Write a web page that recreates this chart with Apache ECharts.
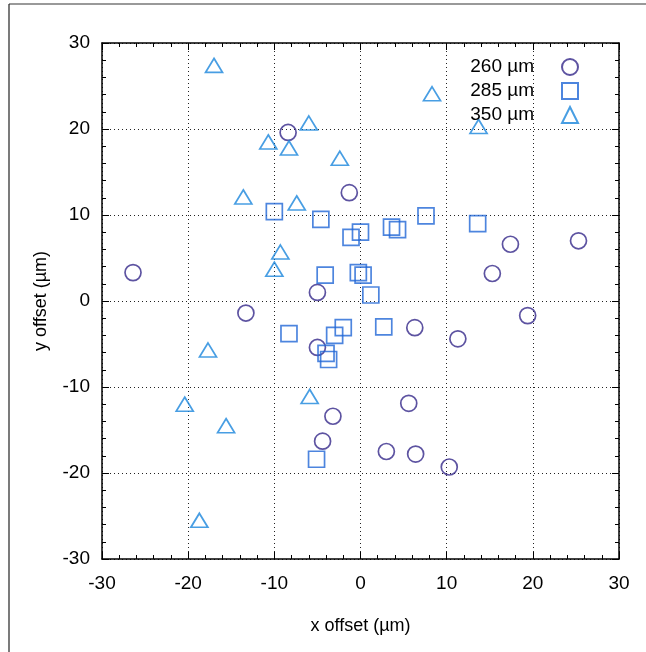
<!DOCTYPE html>
<html>
<head>
<meta charset="utf-8">
<script src="https://cdn.jsdelivr.net/npm/echarts@6/dist/echarts.min.js"></script>
<style>
html,body{margin:0;padding:0;background:#fff;}
#c{width:646px;height:652px;}
</style>
</head>
<body>
<div id="c"></div>
<script>
const seriesNames = ['260 \u00b5m', '285 \u00b5m', '350 \u00b5m'];
const xTicks = [-30, -20, -10, 0, 10, 20, 30];
const yTicks = [-30, -20, -10, 0, 10, 20, 30];

const s260 = [
  [-8.4, 19.6], [-1.3, 12.6], [-26.4, 3.3], [-5.0, 1.0], [17.4, 6.6], [25.3, 7.0],
  [15.3, 3.2], [-13.3, -1.4], [-5.0, -5.4], [-3.2, -13.4], [-4.4, -16.3], [6.3, -3.1],
  [11.3, -4.4], [19.4, -1.7], [5.6, -11.9], [3.0, -17.5], [6.4, -17.8], [10.3, -19.3]
];
const s285 = [
  [-10.0, 10.4], [-4.6, 9.5], [0.0, 8.0], [-1.1, 7.4], [-4.1, 3.0], [-0.25, 3.3],
  [0.3, 3.0], [1.2, 0.7], [7.6, 9.9], [3.6, 8.6], [4.3, 8.3], [13.6, 9.0],
  [-8.3, -3.8], [-2.0, -3.1], [-3.0, -4.0], [-4.0, -6.1], [-3.7, -6.8], [-5.1, -18.4],
  [2.7, -3.0]
];
const s350 = [
  [-17.0, 27.4], [-6.0, 20.7], [-10.7, 18.5], [-8.3, 17.8], [-2.4, 16.6], [-13.6, 12.1],
  [-7.4, 11.4], [-9.3, 5.7], [-10.0, 3.7], [8.3, 24.1], [13.7, 20.3], [-17.7, -5.7],
  [-20.4, -12.0], [-5.9, -11.1], [-15.6, -14.5], [-18.7, -25.5]
];

const colors = ['#34288a', '#2166d6', '#1a86dc'];
const FONT = 'Liberation Sans';

const chart = echarts.init(document.getElementById('c'), null, {renderer: 'canvas'});

function axisBase(pos, showLabels, showGrid, ticks) {
  return {
    type: 'value',
    position: pos,
    min: ticks[0],
    max: ticks[ticks.length - 1],
    interval: ticks[1] - ticks[0],
    axisLine: {show: true, onZero: false, lineStyle: {color: '#000', width: 1.5}},
    axisTick: {show: true, inside: true, length: 7, lineStyle: {color: '#000', width: 1}},
    minorTick: {show: true, splitNumber: 5, length: 4, lineStyle: {color: '#000', width: 1}},
    axisLabel: {show: showLabels, color: '#000', fontFamily: FONT, fontSize: 19, margin: 15},
    splitLine: {show: showGrid, lineStyle: {color: '#222', width: 1, type: [1, 3]}},
    minorSplitLine: {show: false}
  };
}

const xMain = Object.assign(axisBase('bottom', true, true, xTicks), {
  name: 'x offset (\u00b5m)', nameLocation: 'middle', nameGap: 58,
  nameTextStyle: {color: '#000', fontFamily: FONT, fontSize: 18}
});
const xTop = axisBase('top', false, false, xTicks);
const yMain = Object.assign(axisBase('left', true, true, yTicks), {
  name: 'y offset (\u00b5m)', nameLocation: 'middle', nameGap: 52,
  nameTextStyle: {color: '#000', fontFamily: FONT, fontSize: 18}
});
yMain.axisLabel.margin = 12;
const yRight = axisBase('right', false, false, yTicks);

function sc(name, data, symbol, size, color) {
  return {
    name: name, type: 'scatter', data: data, symbol: symbol, symbolSize: size,
    xAxisIndex: 0, yAxisIndex: 0,
    itemStyle: {color: 'rgba(0,0,0,0)', borderColor: color, borderWidth: 1.7},
    emphasis: {disabled: true}
  };
}

chart.setOption({
  animation: false,
  backgroundColor: '#fff',
  grid: {left: 102, top: 43, right: 27, bottom: 93},
  xAxis: [xMain, xTop],
  yAxis: [yMain, yRight],
  legend: {
    orient: 'vertical', right: 67, top: 57, padding: 0,
    align: 'right', itemWidth: 16, itemHeight: 16, itemGap: 4,
    textStyle: {color: '#000', fontFamily: FONT, fontSize: 19, lineHeight: 20, padding: [0, 23, 0, 0]},
    data: seriesNames
  },
  graphic: [
    {type: 'line', shape: {x1: 9, y1: 4, x2: 646, y2: 4}, style: {stroke: '#777', lineWidth: 1.5}, silent: true},
    {type: 'line', shape: {x1: 9, y1: 4, x2: 9, y2: 652}, style: {stroke: '#222', lineWidth: 1.2}, silent: true}
  ],
  series: [
    sc(seriesNames[0], s260, 'circle', 16, colors[0]),
    sc(seriesNames[1], s285, 'rect', 16, colors[1]),
    sc(seriesNames[2], s350, 'triangle', [17, 14], colors[2])
  ]
});
</script>
</body>
</html>
